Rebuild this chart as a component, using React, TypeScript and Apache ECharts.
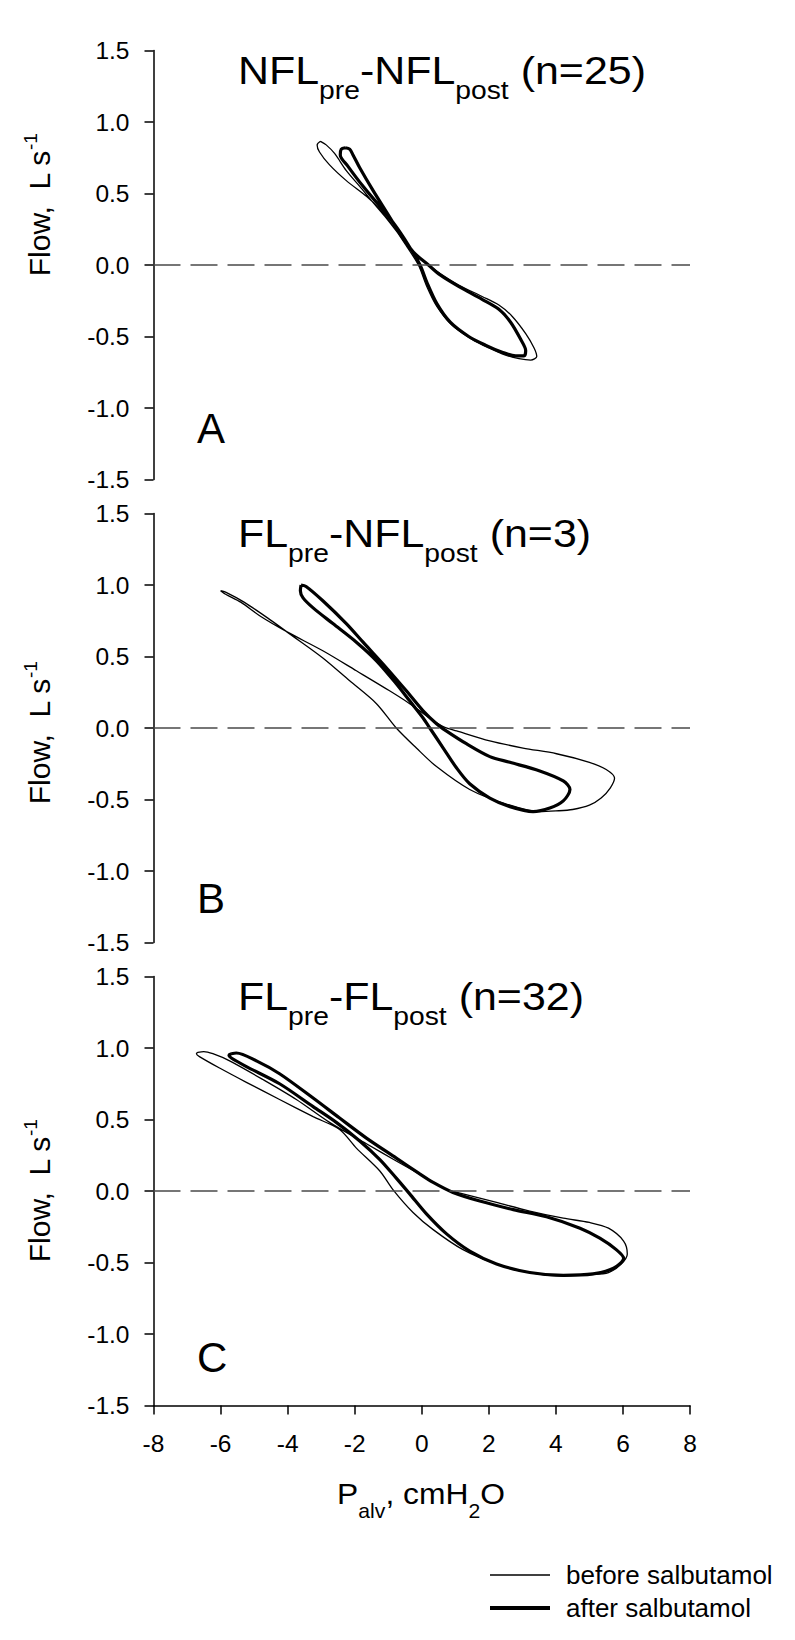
import React, { useEffect, useRef } from "react";
import * as echarts from "echarts";

const FONT = "'Liberation Sans', Arial, Helvetica, sans-serif";

// ---- axes ----
const xMin = -8;
const xMax = 8;
const xStep = 2;
const yMin = -1.5;
const yMax = 1.5;
const yStep = 0.5;

// ---- texts ----
const panelTitles = [
  "{m|NFL}{s|pre}{m|-NFL}{s|post}{m| (n=25)}",
  "{m|FL}{s|pre}{m|-NFL}{s|post}{m| (n=3)}",
  "{m|FL}{s|pre}{m|-FL}{s|post}{m| (n=32)}",
];
const panelLetters = ["A", "B", "C"];
const seriesNames = ["before salbutamol", "after salbutamol"];
const yAxisName = "{m|Flow,  L s}{p|-1}";
const xAxisName = "{m|P}{s|alv}{m|, cmH}{s|2}{m|O}";

// ---- data: [Palv (cmH2O), Flow (L/s)] loops ----
const aBefore = [
  [-3.02, 0.865], [-2.85, 0.84], [-2.6, 0.78], [-2.25, 0.66], [-1.85, 0.55], [-1.5, 0.45],
  [-1.1, 0.34], [-0.7, 0.22], [-0.3, 0.1], [0.2, 0.0], [0.55, -0.06], [1.1, -0.14],
  [1.8, -0.22], [2.3, -0.28], [2.7, -0.36], [3.1, -0.48], [3.35, -0.58], [3.43, -0.64],
  [3.25, -0.665], [2.9, -0.655], [2.5, -0.63], [2.0, -0.58], [1.5, -0.52], [0.9, -0.42],
  [0.45, -0.29], [0.15, -0.15], [-0.1, 0.0], [-0.45, 0.13], [-0.85, 0.27], [-1.25, 0.39],
  [-1.65, 0.48], [-2.25, 0.59], [-2.75, 0.7], [-3.05, 0.79], [-3.12, 0.84], [-3.02, 0.865],
];
const aAfter = [
  [-2.28, 0.82], [-2.15, 0.81], [-2.05, 0.77], [-1.85, 0.68], [-1.45, 0.52], [-1.05, 0.37],
  [-0.65, 0.22], [-0.25, 0.09], [0.2, 0.0], [0.55, -0.07], [1.1, -0.15], [1.8, -0.24],
  [2.3, -0.31], [2.65, -0.4], [2.95, -0.52], [3.1, -0.6], [3.05, -0.635], [2.8, -0.635],
  [2.4, -0.61], [1.9, -0.56], [1.4, -0.5], [0.85, -0.4], [0.45, -0.27], [0.15, -0.12],
  [-0.05, 0.0], [-0.4, 0.14], [-0.8, 0.28], [-1.25, 0.41], [-1.75, 0.55], [-2.2, 0.69],
  [-2.43, 0.77], [-2.4, 0.81], [-2.28, 0.82],
];
const bBefore = [
  [-6.0, 0.96], [-5.85, 0.935], [-5.4, 0.88], [-4.8, 0.78], [-4.0, 0.67], [-2.95, 0.54],
  [-1.95, 0.4], [-0.96, 0.26], [-0.36, 0.17], [0.24, 0.07], [0.64, 0.01], [1.04, -0.02],
  [2.03, -0.09], [3.02, -0.14], [4.02, -0.18], [5.0, -0.24], [5.5, -0.29], [5.75, -0.35],
  [5.62, -0.42], [5.35, -0.49], [5.0, -0.54], [4.5, -0.57], [4.0, -0.58], [3.5, -0.585],
  [2.5, -0.53], [1.43, -0.43], [0.44, -0.27], [-0.16, -0.14], [-0.76, 0.0], [-1.35, 0.17],
  [-2.15, 0.33], [-2.95, 0.49], [-3.95, 0.66], [-4.6, 0.77], [-5.3, 0.88], [-5.85, 0.95],
  [-6.0, 0.96],
];
const bAfter = [
  [-3.6, 1.0], [-3.45, 0.99], [-2.95, 0.89], [-2.25, 0.73], [-1.75, 0.6], [-1.05, 0.42],
  [-0.46, 0.26], [0.04, 0.12], [0.44, 0.03], [0.73, -0.02], [1.33, -0.11], [2.03, -0.2],
  [2.63, -0.24], [3.52, -0.3], [4.22, -0.37], [4.42, -0.43], [4.22, -0.51], [3.82, -0.56],
  [3.32, -0.585], [2.63, -0.55], [2.03, -0.49], [1.43, -0.39], [1.04, -0.28], [0.64, -0.14],
  [0.24, 0.0], [0.04, 0.07], [-0.36, 0.19], [-0.76, 0.31], [-1.35, 0.47], [-1.95, 0.6],
  [-2.65, 0.73], [-3.24, 0.84], [-3.54, 0.91], [-3.62, 0.96], [-3.6, 1.0],
];
const cBefore = [
  [-6.68, 0.97], [-6.5, 0.975], [-6.23, 0.96], [-5.73, 0.91], [-4.74, 0.78], [-3.74, 0.64],
  [-2.75, 0.48], [-1.65, 0.33], [-0.76, 0.21], [0.14, 0.09], [0.74, 0.01], [1.23, -0.02],
  [2.23, -0.08], [3.22, -0.14], [4.22, -0.19], [5.0, -0.22], [5.57, -0.26], [6.02, -0.35],
  [6.13, -0.44], [5.95, -0.51], [5.57, -0.57], [5.01, -0.585], [4.22, -0.595], [3.22, -0.57],
  [2.23, -0.51], [1.23, -0.41], [0.34, -0.27], [-0.26, -0.15], [-0.86, 0.01], [-1.25, 0.14],
  [-1.95, 0.3], [-2.45, 0.43], [-3.24, 0.52], [-4.24, 0.64], [-5.23, 0.76], [-6.03, 0.86],
  [-6.63, 0.94], [-6.72, 0.96], [-6.68, 0.97],
];
const cAfter = [
  [-5.68, 0.96], [-5.53, 0.965], [-4.93, 0.91], [-4.24, 0.82], [-3.24, 0.65], [-2.45, 0.51],
  [-1.65, 0.37], [-0.76, 0.23], [-0.06, 0.12], [0.34, 0.06], [0.93, -0.01], [1.73, -0.07],
  [2.73, -0.13], [3.72, -0.18], [4.72, -0.26], [5.31, -0.33], [5.8, -0.41], [6.02, -0.47],
  [5.72, -0.54], [5.11, -0.58], [4.22, -0.59], [3.22, -0.57], [2.23, -0.51], [1.43, -0.42],
  [0.74, -0.3], [0.14, -0.16], [-0.36, -0.02], [-0.76, 0.09], [-1.25, 0.22], [-1.85, 0.35],
  [-2.55, 0.48], [-3.24, 0.59], [-4.24, 0.75], [-5.23, 0.87], [-5.68, 0.93], [-5.75, 0.95],
  [-5.68, 0.96],
];

const panels = [
  { before: aBefore, after: aAfter },
  { before: bBefore, after: bAfter },
  { before: cBefore, after: cAfter },
];

// ---- layout (pixels) ----
const GRID_LEFT = 153.5;
const GRID_WIDTH = 536.5;
const GRID_HEIGHT = 429;
const PANEL_TOPS = [50.5, 513.5, 976.5];
const YNAME_CENTERS = [205, 733, 1191];
const LETTER_Y = [428, 898, 1357];

function buildOption() {
  const grid = PANEL_TOPS.map((t) => ({ left: GRID_LEFT, top: t, width: GRID_WIDTH, height: GRID_HEIGHT }));
  const axisLineStyle = { color: "#000", width: 1.5 };
  const xAxis = PANEL_TOPS.map((_, i) => ({
    type: "value",
    gridIndex: i,
    min: xMin,
    max: xMax,
    interval: xStep,
    show: i === 2,
    axisLine: { show: true, onZero: false, lineStyle: axisLineStyle },
    axisTick: { show: true, length: 9, lineStyle: axisLineStyle },
    axisLabel: { fontSize: 24.5, color: "#000", fontFamily: FONT, margin: 25 },
    splitLine: { show: false },
  }));
  const yAxis = PANEL_TOPS.map((_, i) => ({
    type: "value",
    gridIndex: i,
    min: yMin,
    max: yMax,
    interval: yStep,
    axisLine: { show: true, onZero: false, lineStyle: axisLineStyle },
    axisTick: { show: true, length: 9, lineStyle: axisLineStyle },
    axisLabel: {
      fontSize: 24.5,
      color: "#000",
      fontFamily: FONT,
      margin: 24,
      formatter: (v: number) => v.toFixed(1),
    },
    splitLine: { show: false },
  }));
  const series: any[] = [];
  panels.forEach((p, i) => {
    series.push({
      type: "line",
      name: seriesNames[0],
      xAxisIndex: i,
      yAxisIndex: i,
      data: p.before,
      symbol: "none",
      smooth: 0.3,
      silent: true,
      lineStyle: { color: "#000", width: 1.3 },
      itemStyle: { color: "#000" },
      markLine: {
        silent: true,
        symbol: "none",
        label: { show: false },
        lineStyle: { color: "#4a4a4a", type: [27, 10], width: 1.6 },
        data: [{ yAxis: 0 }],
      },
      z: 3,
    });
    series.push({
      type: "line",
      name: seriesNames[1],
      xAxisIndex: i,
      yAxisIndex: i,
      data: p.after,
      symbol: "none",
      smooth: 0.3,
      silent: true,
      lineStyle: { color: "#000", width: 3.2 },
      itemStyle: { color: "#000" },
      z: 4,
    });
  });

  const graphic: any[] = [];
  PANEL_TOPS.forEach((t, i) => {
    graphic.push({
      type: "text",
      x: 238,
      y: t + 1,
      scaleX: 1.13,
      silent: true,
      style: {
        text: panelTitles[i],
        fill: "#000",
        align: "left",
        verticalAlign: "top",
        rich: {
          m: { fontSize: 38, fontFamily: FONT, lineHeight: 40, verticalAlign: "top", fill: "#000" },
          s: { fontSize: 25, fontFamily: FONT, lineHeight: 26, padding: [27, 0, 0, 0], verticalAlign: "top", fill: "#000" },
        },
      },
    });
    graphic.push({
      type: "text",
      x: 36.5,
      y: YNAME_CENTERS[i],
      rotation: Math.PI / 2,
      silent: true,
      style: {
        text: yAxisName,
        fill: "#000",
        align: "center",
        verticalAlign: "middle",
        rich: {
          m: { fontSize: 30, fontFamily: FONT, lineHeight: 32, padding: [4, 0, 0, 0], verticalAlign: "top", fill: "#000" },
          p: { fontSize: 19, fontFamily: FONT, lineHeight: 19, verticalAlign: "top", fill: "#000" },
        },
      },
    });
    graphic.push({
      type: "text",
      x: 197,
      y: LETTER_Y[i],
      silent: true,
      style: {
        text: panelLetters[i],
        fill: "#000",
        fontSize: 42,
        fontFamily: FONT,
        align: "left",
        verticalAlign: "middle",
      },
    });
  });
  graphic.push({
    type: "text",
    x: 421,
    y: 1479,
    scaleX: 1.06,
    silent: true,
    style: {
      text: xAxisName,
      fill: "#000",
      align: "center",
      verticalAlign: "top",
      rich: {
        m: { fontSize: 30, fontFamily: FONT, lineHeight: 34, verticalAlign: "top", fill: "#000" },
        s: { fontSize: 20, fontFamily: FONT, lineHeight: 17, padding: [22, 0, 0, 0], verticalAlign: "top", fill: "#000" },
      },
    },
  });
  // legend
  const legendRows = [
    { y: 1575, w: 1.3, label: seriesNames[0] },
    { y: 1608, w: 4, label: seriesNames[1] },
  ];
  legendRows.forEach((r) => {
    graphic.push({
      type: "line",
      silent: true,
      shape: { x1: 490, y1: r.y, x2: 550, y2: r.y },
      style: { stroke: "#000", lineWidth: r.w },
    });
    graphic.push({
      type: "text",
      x: 566,
      y: r.y,
      scaleX: 1.04,
      silent: true,
      style: {
        text: r.label,
        fill: "#000",
        fontSize: 25,
        fontFamily: FONT,
        align: "left",
        verticalAlign: "middle",
      },
    });
  });

  return {
    animation: false,
    backgroundColor: "#fff",
    grid,
    xAxis,
    yAxis,
    series,
    graphic,
  };
}

export default function App() {
  const ref = useRef<HTMLDivElement | null>(null);
  useEffect(() => {
    if (!ref.current) return;
    const chart = echarts.init(ref.current, undefined, { renderer: "svg" });
    chart.setOption(buildOption() as any);
    return () => chart.dispose();
  }, []);
  return (
    <div
      ref={ref}
      style={{ position: "absolute", left: 0, top: 0, width: 795, height: 1640, background: "#fff" }}
    />
  );
}
